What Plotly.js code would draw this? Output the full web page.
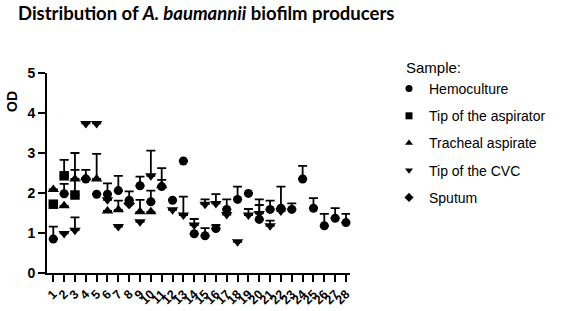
<!DOCTYPE html>
<html>
<head>
<meta charset="utf-8">
<script src="https://cdn.plot.ly/plotly-3.0.1.min.js"></script>
<style>html,body{margin:0;padding:0;background:#fff;}#chart{width:567px;height:311px;}</style>
</head>
<body>
<div id="chart"></div>
<script>
// Category labels (isolates)
var categories = ["1","2","3","4","5","6","7","8","9","10","11","12","13","14","15","16","17","18","19","20","21","22","23","24","25","26","27","28"];

// Hemoculture (circle)
var hemoX   = ["1","2","4","5","6","7","8","9","10","11","12","13","14","15","16","17","18","19","20","21","22","23","24","25","26","27","28"];
var hemoY   = [0.85,1.98,2.35,1.97,1.97,2.06,1.82,2.18,1.78,2.16,1.82,2.80,0.98,0.93,1.11,1.59,1.84,1.99,1.34,1.59,1.62,1.59,2.35,1.62,1.18,1.37,1.26];
var hemoErr = [0.31,0.25,0.23,null,0.27,0.37,0.22,0.23,0.28,0.46,null,null,null,0.19,0.09,0.25,0.32,null,0.50,0.22,0.54,0.15,0.33,0.25,0.30,0.25,0.22];

// Tip of the aspirator (square)
var aspX   = ["1","2","3"];
var aspY   = [1.72,2.43,1.95];
var aspErr = [null,0.40,0.63];

// Tracheal aspirate (triangle up)
var trachX   = ["1","2","3","4","5","6","7","9","10","11"];
var trachY   = [2.09,1.68,2.35,2.38,2.35,1.55,1.58,1.53,1.53,2.18];
var trachErr = [null,null,0.65,null,0.63,null,0.23,0.30,null,0.15];

// Tip of the CVC (triangle down)
var cvcX   = ["2","3","4","5","6","7","9","10","12","13","14","15","16","17","18","19","20","21","22"];
var cvcY   = [0.99,1.07,3.74,3.74,1.83,1.16,1.28,2.43,1.58,1.45,1.20,1.72,1.74,1.46,0.78,1.45,1.49,1.18,1.55];
var cvcErr = [null,0.32,null,null,null,null,null,0.63,null,0.46,0.15,0.12,0.23,null,null,0.15,0.21,0.13,null];

// Sputum (diamond)
var sputX   = ["8"];
var sputY   = [1.74];
var sputErr = [null];

var seriesNames = ["Hemoculture","Tip of the aspirator","Tracheal aspirate","Tip of the CVC","Sputum"];
var yTicks = [0,1,2,3,4,5];

var symbols = ["circle","square","triangle-up","triangle-down","diamond"];
var sizes = [9,9.5,10,10,9];
var sets = [[hemoX,hemoY,hemoErr],[aspX,aspY,aspErr],[trachX,trachY,trachErr],[cvcX,cvcY,cvcErr],[sputX,sputY,sputErr]];

var traces = [];
sets.forEach(function(s,i){
  traces.push({
    type:'scatter', mode:'markers', x:s[0], y:s[1], showlegend:false, cliponaxis:false,
    marker:{symbol:symbols[i], size:sizes[i], color:'#000'},
    error_y:{type:'data', symmetric:false, array:s[2], arrayminus:s[2].map(function(){return 0;}),
             color:'#000', thickness:1.8, width:4.5}
  });
});
// legend entries
seriesNames.forEach(function(n,i){
  traces.push({type:'scatter', mode:'markers', x:[null], y:[null], name:n, legendgroup:'g'+i,
    marker:{symbol:symbols[i], size:7, color:'#000'}, showlegend:true});
});

var layout = {
  width:567, height:311,
  margin:{l:47, r:217, t:73, b:38},
  paper_bgcolor:'#fff', plot_bgcolor:'#fff',
  title:{text:'Distribution of <i>A. baumannii</i> biofilm producers',
         font:{family:'Lato, sans-serif', size:18.5, color:'#000', weight:'bold'},
         x:18/567, xanchor:'left', xref:'container', y:1-14/311, yanchor:'middle', yref:'container'},
  xaxis:{type:'category', categoryorder:'array', categoryarray:categories, tickvals:categories, ticktext:categories,
         range:[-0.58,27.37], showline:true, linecolor:'#000', linewidth:2, showgrid:false, zeroline:false,
         ticks:'outside', ticklen:7, tickwidth:2, tickcolor:'#000', tickangle:-45,
         tickfont:{family:'Liberation Sans, Arial, sans-serif', size:12.5, color:'#000', weight:'bold'}},
  yaxis:{range:[0,5], tickvals:yTicks, showline:true, linecolor:'#000', linewidth:2, showgrid:false, zeroline:false,
         ticks:'outside', ticklen:7, tickwidth:2, tickcolor:'#000',
         tickfont:{family:'Liberation Sans, Arial, sans-serif', size:14, color:'#000', weight:'bold'}},
  showlegend:true,
  legend:{xref:'container', yref:'container', x:389/567, y:1-73/311, xanchor:'left', yanchor:'top',
          font:{family:'Liberation Sans, Arial, sans-serif', size:14, color:'#000'},
          tracegroupgap:6, bgcolor:'rgba(0,0,0,0)'},
  annotations:[
    {text:'Sample:', xref:'paper', yref:'paper', x:(404-47)/303, y:(273-67)/200, xanchor:'left', yanchor:'middle',
     showarrow:false, font:{family:'Liberation Sans, Arial, sans-serif', size:15, color:'#000'}},
    {text:'<b>OD</b>', xref:'paper', yref:'paper', x:(12-47)/303, y:(273-102)/200, xanchor:'center', yanchor:'middle',
     textangle:-90, showarrow:false, font:{family:'Liberation Sans, Arial, sans-serif', size:14, color:'#000'}}
  ]
};
Plotly.newPlot('chart', traces, layout, {staticPlot:true, displayModeBar:false});
</script>
</body>
</html>
